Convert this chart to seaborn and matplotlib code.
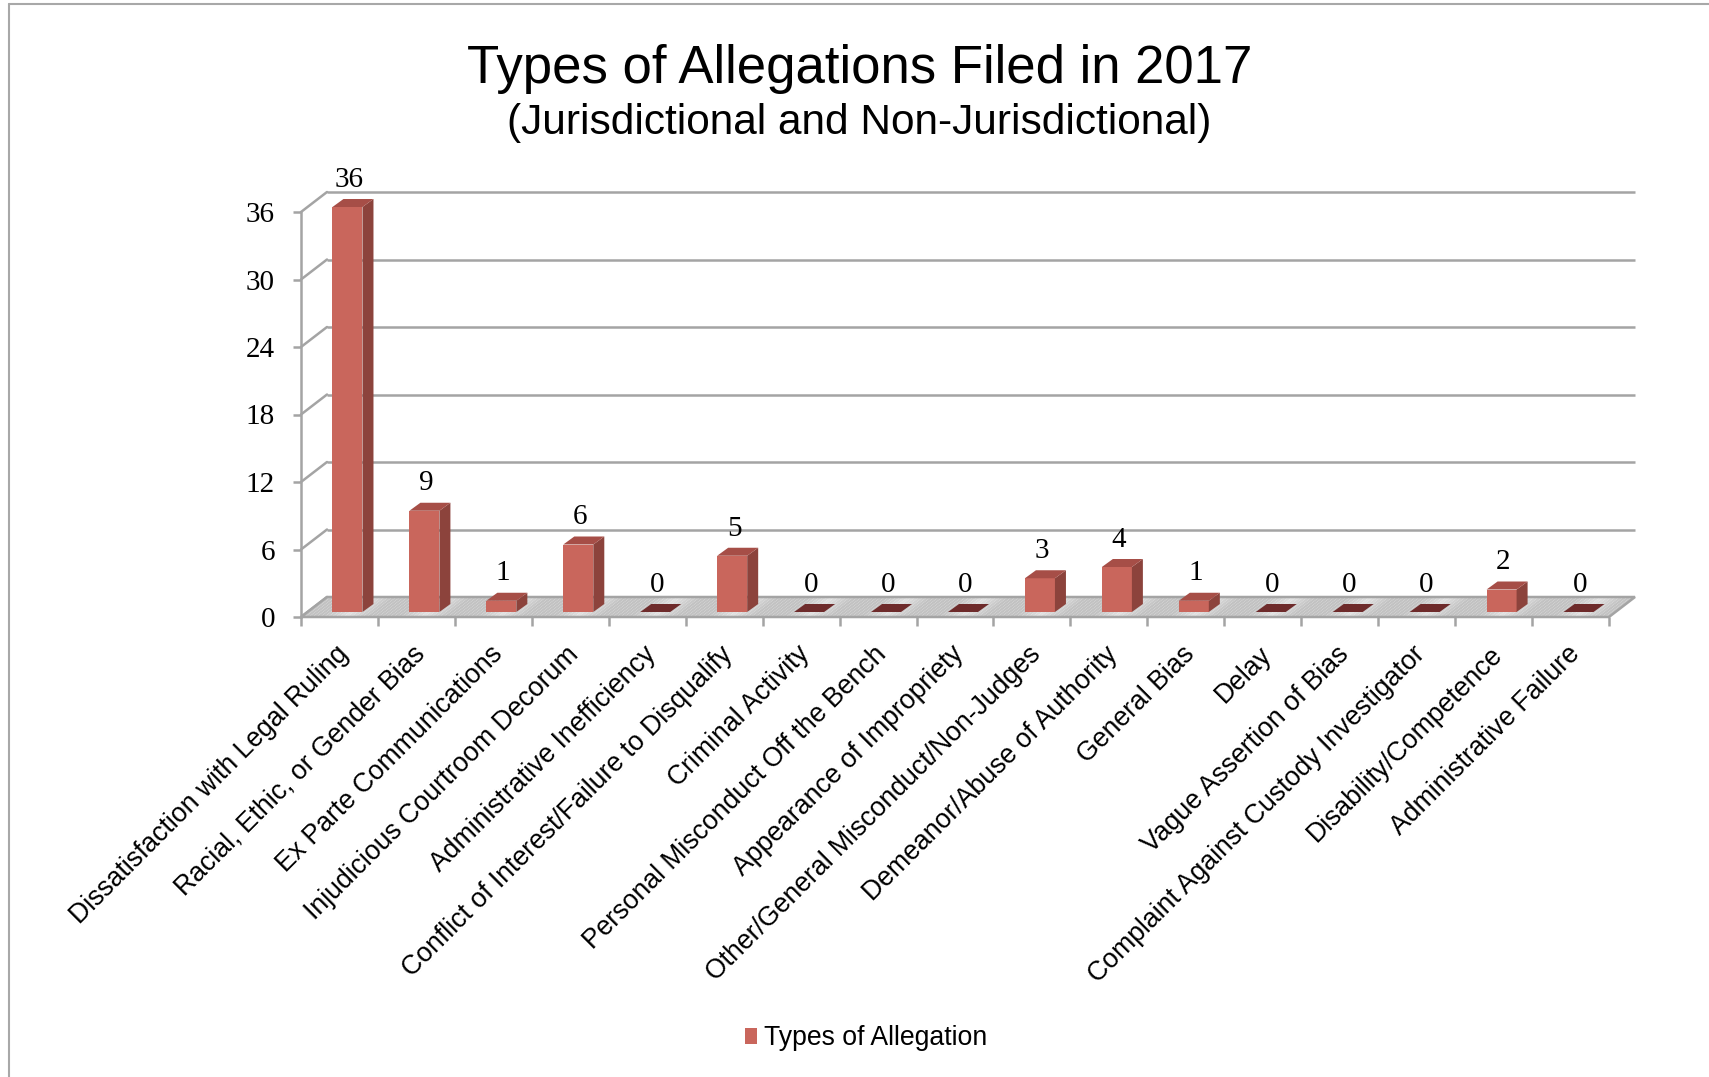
import numpy as np
import pandas as pd
import matplotlib
matplotlib.use("Agg")
import matplotlib.pyplot as plt
import seaborn as sns
from matplotlib.patches import Polygon, Patch
from matplotlib.collections import PolyCollection
from matplotlib.lines import Line2D
from matplotlib.transforms import ScaledTranslation

# ---- data -------------------------------------------------------------
categories = [
    "Dissatisfaction with Legal Ruling",
    "Racial, Ethic, or Gender Bias",
    "Ex Parte Communications",
    "Injudicious Courtroom Decorum",
    "Administrative Inefficiency",
    "Conflict of Interest/Failure to Disqualify",
    "Criminal Activity",
    "Personal Misconduct Off the Bench",
    "Appearance of Impropriety",
    "Other/General Misconduct/Non-Judges",
    "Demeanor/Abuse of Authority",
    "General Bias",
    "Delay",
    "Vague Assertion of Bias",
    "Complaint Against Custody Investigator",
    "Disability/Competence",
    "Administrative Failure",
]
counts = [36, 9, 1, 6, 0, 5, 0, 0, 0, 3, 4, 1, 0, 0, 0, 2, 0]
y_ticks = [0, 6, 12, 18, 24, 30, 36]
series_name = "Types of Allegation"
title = "Types of Allegations Filed in 2017"
subtitle = "(Jurisdictional and Non-Jurisdictional)"

# ---- style ------------------------------------------------------------
sns.set_style("white")
plt.rcParams["font.family"] = ["Liberation Sans", "DejaVu Sans"]
plt.rcParams["text.color"] = "black"
plt.rcParams["xtick.labelcolor"] = "black"
plt.rcParams["ytick.labelcolor"] = "black"
SERIF = ["Liberation Serif", "DejaVu Serif"]

FRONT = "#C9665C"
SIDE = "#8C433C"
TOP = "#A64E47"
ZERO = "#6E2B2B"
GRID = "#A4A4A4"
FS = 19.2      # category labels / legend
FS_NUM = 21    # serif numbers

W, H = 1709, 1077
fig = plt.figure(figsize=(W / 100, H / 100), dpi=100)
fig.patch.set_facecolor("white")

# front plane of the 3-D box (pixels): x 301..1609, y(0)=617, y(36)=212
ax = fig.add_axes([301 / W, 1 - 617 / H, (1609 - 301) / W, (617 - 212) / H])
ax.set_facecolor("none")

df = pd.DataFrame({"category": categories, "count": counts})
sns.barplot(data=df, x="category", y="count", order=categories, color=FRONT,
            saturation=1, width=0.39, ax=ax, zorder=5, linewidth=0)

n = len(categories)
ax.set_xlim(-0.5, n - 0.5)
ax.set_ylim(0, 36)

ux = ax.bbox.width / n      # pixels per category unit
uy = ax.bbox.height / 36    # pixels per value unit


def px(dx, dy):
    return dx / ux, dy / uy


DX, DY = px(26, 20)    # depth of the floor / side wall
BX, BY = px(8, 5)      # bars sit a little behind the front plane
SX, SY = px(11, 8)     # depth of each bar

x_left, x_right = -0.5, n - 0.5

# back wall gridlines and side-wall diagonals
for t in y_ticks:
    if t > 0:
        ax.plot([x_left + DX, x_right + DX], [t + DY, t + DY], color=GRID,
                lw=1.8, clip_on=False, zorder=1, solid_capstyle="butt")
    ax.plot([x_left, x_left + DX], [t, t + DY], color=GRID, lw=1.8,
            clip_on=False, zorder=2)

# floor with a brushed silver look
nstrip = 340
edges = np.linspace(x_left, x_right, nstrip + 1)
polys, shades = [], []
for i in range(nstrip):
    a, b = edges[i], edges[i + 1]
    polys.append([(a, 0), (b, 0), (b + DX, DY), (a + DX, DY)])
    pos = (i % 20) / 20.0
    shades.append(0.76 + 0.12 * max(0.0, 1 - abs(pos - 0.55) / 0.3))
floor = PolyCollection(polys, facecolors=[(s, s, s) for s in shades],
                       edgecolors="none", clip_on=False, zorder=2)
ax.add_collection(floor)
ax.add_patch(Polygon([(x_left, 0), (x_right, 0), (x_right + DX, DY),
                      (x_left + DX, DY)], closed=True, fill=False,
                     edgecolor=GRID, lw=1.8, clip_on=False, zorder=3))

# bars: move into the box and add side/top faces
for bar, v in zip(ax.patches, counts):
    x0 = bar.get_x() + BX
    w = bar.get_width()
    h = bar.get_height()
    bar.set_x(x0)
    bar.set_y(BY)
    bar.set_clip_on(False)
    if h > 0:
        ax.add_patch(Polygon([(x0 + w, BY), (x0 + w + SX, BY + SY),
                              (x0 + w + SX, BY + h + SY), (x0 + w, BY + h)],
                             closed=True, facecolor=SIDE, edgecolor="none",
                             clip_on=False, zorder=5))
        top_color = TOP
    else:
        top_color = ZERO
    ax.add_patch(Polygon([(x0, BY + h), (x0 + SX, BY + h + SY),
                          (x0 + w + SX, BY + h + SY), (x0 + w, BY + h)],
                         closed=True, facecolor=top_color, edgecolor="none",
                         clip_on=False, zorder=5))
    ax.annotate(f"{v:g}", (x0 + w / 2 + SX / 6, BY + h + SY),
                xytext=(0, 4.5), textcoords="offset points", ha="center",
                va="bottom", fontsize=FS_NUM, family=SERIF, color="black",
                annotation_clip=False, zorder=6)

# axes decoration
for s in ["top", "right", "bottom"]:
    ax.spines[s].set_visible(False)
ax.spines["left"].set_color(GRID)
ax.spines["left"].set_linewidth(1.8)
ax.spines["left"].set_zorder(4)

ax.set_yticks(y_ticks)
ax.set_yticklabels([str(t) for t in y_ticks], family=SERIF, fontsize=FS_NUM,
                   color="black")
ax.tick_params(axis="y", direction="out", length=5.8, width=1.8, color=GRID,
               pad=13, left=True)

ax.set_xticks(range(n))
ax.set_xticklabels(categories, rotation=45, ha="right", va="center",
                   rotation_mode="anchor", fontsize=FS, color="black")
ax.tick_params(axis="x", which="major", length=0, pad=24)
ax.set_xticks(np.arange(x_left, x_right + 0.01, 1), minor=True)
ax.tick_params(axis="x", which="minor", direction="out", length=6.5,
               width=1.8, color=GRID, bottom=True)
shift = ScaledTranslation(5 / 100, 0, fig.dpi_scale_trans)
for lbl in ax.get_xticklabels():
    lbl.set_transform(lbl.get_transform() + shift)
ax.set_xlabel("")
ax.set_ylabel("")

# titles
fig.text(860 / W, 1 - 83 / H, title, ha="center", va="baseline", fontsize=38,
         color="black")
fig.text(859 / W, 1 - 134 / H, subtitle, ha="center", va="baseline",
         fontsize=30.5, color="black")

# legend
fig.legend(handles=[Patch(facecolor=FRONT, edgecolor="none")],
           labels=[series_name], loc="center",
           bbox_to_anchor=(866 / W, 1 - 1038 / H), frameon=False, fontsize=FS,
           handlelength=0.45, handleheight=0.55, handletextpad=0.25,
           labelcolor="black")

# chart area border (top and left edges)
fig.add_artist(Line2D([9 / W, 9 / W], [0, 1 - 4 / H], color="#A8A8A8", lw=1.5))
fig.add_artist(Line2D([9 / W, 1], [1 - 4 / H, 1 - 4 / H], color="#A8A8A8",
                      lw=1.5))

fig.savefig("out.png", dpi=100)
